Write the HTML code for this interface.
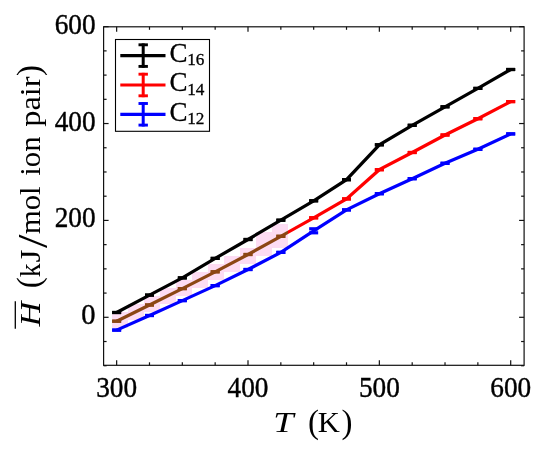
<!DOCTYPE html>
<html><head><meta charset="utf-8"><style>
html,body{margin:0;padding:0;background:#fff;}
svg{display:block;font-family:"Liberation Serif",serif;}
.tk{stroke:#000;stroke-width:0.4px;}
.lg{stroke:#000;stroke-width:0.3px;}
</style></head><body>
<svg width="550" height="450" viewBox="0 0 550 450">
<rect x="0" y="0" width="550" height="450" fill="#fff"/>
<defs><clipPath id="cb"><rect x="0" y="0" width="288.0" height="450"/></clipPath><clipPath id="cr"><rect x="288.0" y="0" width="262.0" height="450"/></clipPath><clipPath id="cp"><rect x="112" y="0" width="176.0" height="450"/></clipPath></defs>
<g fill="#fddcf3"><rect x="112" y="312" width="16" height="8"/><rect x="112" y="320" width="16" height="8"/><rect x="128" y="304" width="16" height="8"/><rect x="128" y="312" width="16" height="8"/><rect x="144" y="296" width="16" height="8"/><rect x="144" y="304" width="16" height="8"/><rect x="160" y="288" width="16" height="8"/><rect x="160" y="296" width="16" height="8"/><rect x="176" y="280" width="16" height="8"/><rect x="176" y="288" width="16" height="8"/><rect x="192" y="272" width="16" height="8"/><rect x="192" y="280" width="16" height="8"/><rect x="208" y="264" width="16" height="8"/><rect x="208" y="272" width="16" height="8"/><rect x="224" y="256" width="16" height="8"/><rect x="224" y="264" width="16" height="8"/><rect x="240" y="248" width="16" height="8"/><rect x="240" y="256" width="16" height="8"/><rect x="256" y="232" width="16" height="8"/><rect x="256" y="240" width="16" height="8"/><rect x="256" y="248" width="16" height="8"/><rect x="272" y="224" width="16" height="8"/><rect x="272" y="232" width="16" height="8"/><rect x="272" y="240" width="16" height="8"/></g>
<polyline points="116.65,312.50 149.49,295.10 182.32,277.90 215.16,258.40 248.00,239.50 280.84,220.20 313.67,200.80 346.51,179.70 379.35,144.80 412.19,125.30 445.02,106.80 477.86,88.40 510.70,69.50" fill="none" stroke="#000" stroke-width="3.2" stroke-linejoin="miter"/>
<line x1="112.15" x2="121.15" y1="312.50" y2="312.50" stroke="#000" stroke-width="3.2"/>
<line x1="112.15" x2="121.15" y1="312.50" y2="312.50" stroke="#000" stroke-width="3.2"/>
<line x1="144.99" x2="153.99" y1="295.10" y2="295.10" stroke="#000" stroke-width="3.2"/>
<line x1="144.99" x2="153.99" y1="295.10" y2="295.10" stroke="#000" stroke-width="3.2"/>
<line x1="177.82" x2="186.82" y1="277.90" y2="277.90" stroke="#000" stroke-width="3.2"/>
<line x1="177.82" x2="186.82" y1="277.90" y2="277.90" stroke="#000" stroke-width="3.2"/>
<line x1="210.66" x2="219.66" y1="258.40" y2="258.40" stroke="#000" stroke-width="3.2"/>
<line x1="210.66" x2="219.66" y1="258.40" y2="258.40" stroke="#000" stroke-width="3.2"/>
<line x1="243.50" x2="252.50" y1="239.50" y2="239.50" stroke="#000" stroke-width="3.2"/>
<line x1="243.50" x2="252.50" y1="239.50" y2="239.50" stroke="#000" stroke-width="3.2"/>
<line x1="276.34" x2="285.34" y1="220.20" y2="220.20" stroke="#000" stroke-width="3.2"/>
<line x1="276.34" x2="285.34" y1="220.20" y2="220.20" stroke="#000" stroke-width="3.2"/>
<line x1="309.17" x2="318.17" y1="200.80" y2="200.80" stroke="#000" stroke-width="3.2"/>
<line x1="309.17" x2="318.17" y1="200.80" y2="200.80" stroke="#000" stroke-width="3.2"/>
<line x1="342.01" x2="351.01" y1="179.70" y2="179.70" stroke="#000" stroke-width="3.2"/>
<line x1="342.01" x2="351.01" y1="179.70" y2="179.70" stroke="#000" stroke-width="3.2"/>
<line x1="374.85" x2="383.85" y1="144.80" y2="144.80" stroke="#000" stroke-width="3.2"/>
<line x1="374.85" x2="383.85" y1="144.80" y2="144.80" stroke="#000" stroke-width="3.2"/>
<line x1="407.69" x2="416.69" y1="125.30" y2="125.30" stroke="#000" stroke-width="3.2"/>
<line x1="407.69" x2="416.69" y1="125.30" y2="125.30" stroke="#000" stroke-width="3.2"/>
<line x1="440.52" x2="449.52" y1="106.80" y2="106.80" stroke="#000" stroke-width="3.2"/>
<line x1="440.52" x2="449.52" y1="106.80" y2="106.80" stroke="#000" stroke-width="3.2"/>
<line x1="473.36" x2="482.36" y1="88.40" y2="88.40" stroke="#000" stroke-width="3.2"/>
<line x1="473.36" x2="482.36" y1="88.40" y2="88.40" stroke="#000" stroke-width="3.2"/>
<line x1="506.20" x2="515.20" y1="69.50" y2="69.50" stroke="#000" stroke-width="3.2"/>
<line x1="506.20" x2="515.20" y1="69.50" y2="69.50" stroke="#000" stroke-width="3.2"/>

<g clip-path="url(#cb)"><polyline points="116.65,321.20 149.49,305.00 182.32,288.60 215.16,271.80 248.00,254.50 280.84,236.30 313.67,217.80 346.51,198.90 379.35,169.70 412.19,152.50 445.02,135.00 477.86,118.70 510.70,101.60" fill="none" stroke="#8c4614" stroke-width="3.2" stroke-linejoin="miter"/>
<line x1="112.15" x2="121.15" y1="321.20" y2="321.20" stroke="#8c4614" stroke-width="3.2"/>
<line x1="112.15" x2="121.15" y1="321.20" y2="321.20" stroke="#8c4614" stroke-width="3.2"/>
<line x1="144.99" x2="153.99" y1="305.00" y2="305.00" stroke="#8c4614" stroke-width="3.2"/>
<line x1="144.99" x2="153.99" y1="305.00" y2="305.00" stroke="#8c4614" stroke-width="3.2"/>
<line x1="177.82" x2="186.82" y1="288.60" y2="288.60" stroke="#8c4614" stroke-width="3.2"/>
<line x1="177.82" x2="186.82" y1="288.60" y2="288.60" stroke="#8c4614" stroke-width="3.2"/>
<line x1="210.66" x2="219.66" y1="271.80" y2="271.80" stroke="#8c4614" stroke-width="3.2"/>
<line x1="210.66" x2="219.66" y1="271.80" y2="271.80" stroke="#8c4614" stroke-width="3.2"/>
<line x1="243.50" x2="252.50" y1="254.50" y2="254.50" stroke="#8c4614" stroke-width="3.2"/>
<line x1="243.50" x2="252.50" y1="254.50" y2="254.50" stroke="#8c4614" stroke-width="3.2"/>
<line x1="276.34" x2="285.34" y1="236.30" y2="236.30" stroke="#8c4614" stroke-width="3.2"/>
<line x1="276.34" x2="285.34" y1="236.30" y2="236.30" stroke="#8c4614" stroke-width="3.2"/>
<line x1="309.17" x2="318.17" y1="217.80" y2="217.80" stroke="#8c4614" stroke-width="3.2"/>
<line x1="309.17" x2="318.17" y1="217.80" y2="217.80" stroke="#8c4614" stroke-width="3.2"/>
<line x1="342.01" x2="351.01" y1="198.90" y2="198.90" stroke="#8c4614" stroke-width="3.2"/>
<line x1="342.01" x2="351.01" y1="198.90" y2="198.90" stroke="#8c4614" stroke-width="3.2"/>
<line x1="374.85" x2="383.85" y1="169.70" y2="169.70" stroke="#8c4614" stroke-width="3.2"/>
<line x1="374.85" x2="383.85" y1="169.70" y2="169.70" stroke="#8c4614" stroke-width="3.2"/>
<line x1="407.69" x2="416.69" y1="152.50" y2="152.50" stroke="#8c4614" stroke-width="3.2"/>
<line x1="407.69" x2="416.69" y1="152.50" y2="152.50" stroke="#8c4614" stroke-width="3.2"/>
<line x1="440.52" x2="449.52" y1="135.00" y2="135.00" stroke="#8c4614" stroke-width="3.2"/>
<line x1="440.52" x2="449.52" y1="135.00" y2="135.00" stroke="#8c4614" stroke-width="3.2"/>
<line x1="473.36" x2="482.36" y1="118.70" y2="118.70" stroke="#8c4614" stroke-width="3.2"/>
<line x1="473.36" x2="482.36" y1="118.70" y2="118.70" stroke="#8c4614" stroke-width="3.2"/>
<line x1="506.20" x2="515.20" y1="101.60" y2="101.60" stroke="#8c4614" stroke-width="3.2"/>
<line x1="506.20" x2="515.20" y1="101.60" y2="101.60" stroke="#8c4614" stroke-width="3.2"/>
</g>
<g clip-path="url(#cr)"><polyline points="116.65,321.20 149.49,305.00 182.32,288.60 215.16,271.80 248.00,254.50 280.84,236.30 313.67,217.80 346.51,198.90 379.35,169.70 412.19,152.50 445.02,135.00 477.86,118.70 510.70,101.60" fill="none" stroke="#ff0000" stroke-width="3.2" stroke-linejoin="miter"/>
<line x1="112.15" x2="121.15" y1="321.20" y2="321.20" stroke="#ff0000" stroke-width="3.2"/>
<line x1="112.15" x2="121.15" y1="321.20" y2="321.20" stroke="#ff0000" stroke-width="3.2"/>
<line x1="144.99" x2="153.99" y1="305.00" y2="305.00" stroke="#ff0000" stroke-width="3.2"/>
<line x1="144.99" x2="153.99" y1="305.00" y2="305.00" stroke="#ff0000" stroke-width="3.2"/>
<line x1="177.82" x2="186.82" y1="288.60" y2="288.60" stroke="#ff0000" stroke-width="3.2"/>
<line x1="177.82" x2="186.82" y1="288.60" y2="288.60" stroke="#ff0000" stroke-width="3.2"/>
<line x1="210.66" x2="219.66" y1="271.80" y2="271.80" stroke="#ff0000" stroke-width="3.2"/>
<line x1="210.66" x2="219.66" y1="271.80" y2="271.80" stroke="#ff0000" stroke-width="3.2"/>
<line x1="243.50" x2="252.50" y1="254.50" y2="254.50" stroke="#ff0000" stroke-width="3.2"/>
<line x1="243.50" x2="252.50" y1="254.50" y2="254.50" stroke="#ff0000" stroke-width="3.2"/>
<line x1="276.34" x2="285.34" y1="236.30" y2="236.30" stroke="#ff0000" stroke-width="3.2"/>
<line x1="276.34" x2="285.34" y1="236.30" y2="236.30" stroke="#ff0000" stroke-width="3.2"/>
<line x1="309.17" x2="318.17" y1="217.80" y2="217.80" stroke="#ff0000" stroke-width="3.2"/>
<line x1="309.17" x2="318.17" y1="217.80" y2="217.80" stroke="#ff0000" stroke-width="3.2"/>
<line x1="342.01" x2="351.01" y1="198.90" y2="198.90" stroke="#ff0000" stroke-width="3.2"/>
<line x1="342.01" x2="351.01" y1="198.90" y2="198.90" stroke="#ff0000" stroke-width="3.2"/>
<line x1="374.85" x2="383.85" y1="169.70" y2="169.70" stroke="#ff0000" stroke-width="3.2"/>
<line x1="374.85" x2="383.85" y1="169.70" y2="169.70" stroke="#ff0000" stroke-width="3.2"/>
<line x1="407.69" x2="416.69" y1="152.50" y2="152.50" stroke="#ff0000" stroke-width="3.2"/>
<line x1="407.69" x2="416.69" y1="152.50" y2="152.50" stroke="#ff0000" stroke-width="3.2"/>
<line x1="440.52" x2="449.52" y1="135.00" y2="135.00" stroke="#ff0000" stroke-width="3.2"/>
<line x1="440.52" x2="449.52" y1="135.00" y2="135.00" stroke="#ff0000" stroke-width="3.2"/>
<line x1="473.36" x2="482.36" y1="118.70" y2="118.70" stroke="#ff0000" stroke-width="3.2"/>
<line x1="473.36" x2="482.36" y1="118.70" y2="118.70" stroke="#ff0000" stroke-width="3.2"/>
<line x1="506.20" x2="515.20" y1="101.60" y2="101.60" stroke="#ff0000" stroke-width="3.2"/>
<line x1="506.20" x2="515.20" y1="101.60" y2="101.60" stroke="#ff0000" stroke-width="3.2"/>
</g>
<polyline points="116.65,330.10 149.49,315.50 182.32,300.60 215.16,285.60 248.00,269.50 280.84,252.40 313.67,230.80 346.51,209.90 379.35,193.70 412.19,178.70 445.02,163.30 477.86,149.30 510.70,133.90" fill="none" stroke="#0000ff" stroke-width="3.2" stroke-linejoin="miter"/>
<line x1="112.15" x2="121.15" y1="330.10" y2="330.10" stroke="#0000ff" stroke-width="3.2"/>
<line x1="112.15" x2="121.15" y1="330.10" y2="330.10" stroke="#0000ff" stroke-width="3.2"/>
<line x1="144.99" x2="153.99" y1="315.50" y2="315.50" stroke="#0000ff" stroke-width="3.2"/>
<line x1="144.99" x2="153.99" y1="315.50" y2="315.50" stroke="#0000ff" stroke-width="3.2"/>
<line x1="177.82" x2="186.82" y1="300.60" y2="300.60" stroke="#0000ff" stroke-width="3.2"/>
<line x1="177.82" x2="186.82" y1="300.60" y2="300.60" stroke="#0000ff" stroke-width="3.2"/>
<line x1="210.66" x2="219.66" y1="285.60" y2="285.60" stroke="#0000ff" stroke-width="3.2"/>
<line x1="210.66" x2="219.66" y1="285.60" y2="285.60" stroke="#0000ff" stroke-width="3.2"/>
<line x1="243.50" x2="252.50" y1="269.50" y2="269.50" stroke="#0000ff" stroke-width="3.2"/>
<line x1="243.50" x2="252.50" y1="269.50" y2="269.50" stroke="#0000ff" stroke-width="3.2"/>
<line x1="276.34" x2="285.34" y1="252.40" y2="252.40" stroke="#0000ff" stroke-width="3.2"/>
<line x1="276.34" x2="285.34" y1="252.40" y2="252.40" stroke="#0000ff" stroke-width="3.2"/>
<line x1="309.17" x2="318.17" y1="228.80" y2="228.80" stroke="#0000ff" stroke-width="3.2"/>
<line x1="309.17" x2="318.17" y1="232.80" y2="232.80" stroke="#0000ff" stroke-width="3.2"/>
<line x1="313.67" x2="313.67" y1="228.80" y2="232.80" stroke="#0000ff" stroke-width="3.2"/>
<line x1="342.01" x2="351.01" y1="209.90" y2="209.90" stroke="#0000ff" stroke-width="3.2"/>
<line x1="342.01" x2="351.01" y1="209.90" y2="209.90" stroke="#0000ff" stroke-width="3.2"/>
<line x1="374.85" x2="383.85" y1="193.70" y2="193.70" stroke="#0000ff" stroke-width="3.2"/>
<line x1="374.85" x2="383.85" y1="193.70" y2="193.70" stroke="#0000ff" stroke-width="3.2"/>
<line x1="407.69" x2="416.69" y1="178.70" y2="178.70" stroke="#0000ff" stroke-width="3.2"/>
<line x1="407.69" x2="416.69" y1="178.70" y2="178.70" stroke="#0000ff" stroke-width="3.2"/>
<line x1="440.52" x2="449.52" y1="163.30" y2="163.30" stroke="#0000ff" stroke-width="3.2"/>
<line x1="440.52" x2="449.52" y1="163.30" y2="163.30" stroke="#0000ff" stroke-width="3.2"/>
<line x1="473.36" x2="482.36" y1="149.30" y2="149.30" stroke="#0000ff" stroke-width="3.2"/>
<line x1="473.36" x2="482.36" y1="149.30" y2="149.30" stroke="#0000ff" stroke-width="3.2"/>
<line x1="506.20" x2="515.20" y1="133.90" y2="133.90" stroke="#0000ff" stroke-width="3.2"/>
<line x1="506.20" x2="515.20" y1="133.90" y2="133.90" stroke="#0000ff" stroke-width="3.2"/>

<rect x="103.6" y="26.8" width="420.50" height="338.50" fill="none" stroke="#111" stroke-width="1.2"/>
<line x1="116.65" x2="116.65" y1="365.3" y2="360.30" stroke="#111" stroke-width="1.2"/>
<line x1="116.65" x2="116.65" y1="26.8" y2="31.80" stroke="#111" stroke-width="1.2"/>
<line x1="149.49" x2="149.49" y1="365.3" y2="362.30" stroke="#111" stroke-width="1.2"/>
<line x1="149.49" x2="149.49" y1="26.8" y2="29.80" stroke="#111" stroke-width="1.2"/>
<line x1="182.32" x2="182.32" y1="365.3" y2="362.30" stroke="#111" stroke-width="1.2"/>
<line x1="182.32" x2="182.32" y1="26.8" y2="29.80" stroke="#111" stroke-width="1.2"/>
<line x1="215.16" x2="215.16" y1="365.3" y2="362.30" stroke="#111" stroke-width="1.2"/>
<line x1="215.16" x2="215.16" y1="26.8" y2="29.80" stroke="#111" stroke-width="1.2"/>
<line x1="248.00" x2="248.00" y1="365.3" y2="360.30" stroke="#111" stroke-width="1.2"/>
<line x1="248.00" x2="248.00" y1="26.8" y2="31.80" stroke="#111" stroke-width="1.2"/>
<line x1="280.84" x2="280.84" y1="365.3" y2="362.30" stroke="#111" stroke-width="1.2"/>
<line x1="280.84" x2="280.84" y1="26.8" y2="29.80" stroke="#111" stroke-width="1.2"/>
<line x1="313.67" x2="313.67" y1="365.3" y2="362.30" stroke="#111" stroke-width="1.2"/>
<line x1="313.67" x2="313.67" y1="26.8" y2="29.80" stroke="#111" stroke-width="1.2"/>
<line x1="346.51" x2="346.51" y1="365.3" y2="362.30" stroke="#111" stroke-width="1.2"/>
<line x1="346.51" x2="346.51" y1="26.8" y2="29.80" stroke="#111" stroke-width="1.2"/>
<line x1="379.35" x2="379.35" y1="365.3" y2="360.30" stroke="#111" stroke-width="1.2"/>
<line x1="379.35" x2="379.35" y1="26.8" y2="31.80" stroke="#111" stroke-width="1.2"/>
<line x1="412.19" x2="412.19" y1="365.3" y2="362.30" stroke="#111" stroke-width="1.2"/>
<line x1="412.19" x2="412.19" y1="26.8" y2="29.80" stroke="#111" stroke-width="1.2"/>
<line x1="445.02" x2="445.02" y1="365.3" y2="362.30" stroke="#111" stroke-width="1.2"/>
<line x1="445.02" x2="445.02" y1="26.8" y2="29.80" stroke="#111" stroke-width="1.2"/>
<line x1="477.86" x2="477.86" y1="365.3" y2="362.30" stroke="#111" stroke-width="1.2"/>
<line x1="477.86" x2="477.86" y1="26.8" y2="29.80" stroke="#111" stroke-width="1.2"/>
<line x1="510.70" x2="510.70" y1="365.3" y2="360.30" stroke="#111" stroke-width="1.2"/>
<line x1="510.70" x2="510.70" y1="26.8" y2="31.80" stroke="#111" stroke-width="1.2"/>
<line x1="103.6" x2="106.60" y1="365.74" y2="365.74" stroke="#111" stroke-width="1.2"/>
<line x1="524.1" x2="521.10" y1="365.74" y2="365.74" stroke="#111" stroke-width="1.2"/>
<line x1="103.6" x2="106.60" y1="341.52" y2="341.52" stroke="#111" stroke-width="1.2"/>
<line x1="524.1" x2="521.10" y1="341.52" y2="341.52" stroke="#111" stroke-width="1.2"/>
<line x1="103.6" x2="108.60" y1="317.30" y2="317.30" stroke="#111" stroke-width="1.2"/>
<line x1="524.1" x2="519.10" y1="317.30" y2="317.30" stroke="#111" stroke-width="1.2"/>
<line x1="103.6" x2="106.60" y1="293.08" y2="293.08" stroke="#111" stroke-width="1.2"/>
<line x1="524.1" x2="521.10" y1="293.08" y2="293.08" stroke="#111" stroke-width="1.2"/>
<line x1="103.6" x2="106.60" y1="268.86" y2="268.86" stroke="#111" stroke-width="1.2"/>
<line x1="524.1" x2="521.10" y1="268.86" y2="268.86" stroke="#111" stroke-width="1.2"/>
<line x1="103.6" x2="106.60" y1="244.64" y2="244.64" stroke="#111" stroke-width="1.2"/>
<line x1="524.1" x2="521.10" y1="244.64" y2="244.64" stroke="#111" stroke-width="1.2"/>
<line x1="103.6" x2="108.60" y1="220.42" y2="220.42" stroke="#111" stroke-width="1.2"/>
<line x1="524.1" x2="519.10" y1="220.42" y2="220.42" stroke="#111" stroke-width="1.2"/>
<line x1="103.6" x2="106.60" y1="196.20" y2="196.20" stroke="#111" stroke-width="1.2"/>
<line x1="524.1" x2="521.10" y1="196.20" y2="196.20" stroke="#111" stroke-width="1.2"/>
<line x1="103.6" x2="106.60" y1="171.98" y2="171.98" stroke="#111" stroke-width="1.2"/>
<line x1="524.1" x2="521.10" y1="171.98" y2="171.98" stroke="#111" stroke-width="1.2"/>
<line x1="103.6" x2="106.60" y1="147.76" y2="147.76" stroke="#111" stroke-width="1.2"/>
<line x1="524.1" x2="521.10" y1="147.76" y2="147.76" stroke="#111" stroke-width="1.2"/>
<line x1="103.6" x2="108.60" y1="123.54" y2="123.54" stroke="#111" stroke-width="1.2"/>
<line x1="524.1" x2="519.10" y1="123.54" y2="123.54" stroke="#111" stroke-width="1.2"/>
<line x1="103.6" x2="106.60" y1="99.32" y2="99.32" stroke="#111" stroke-width="1.2"/>
<line x1="524.1" x2="521.10" y1="99.32" y2="99.32" stroke="#111" stroke-width="1.2"/>
<line x1="103.6" x2="106.60" y1="75.10" y2="75.10" stroke="#111" stroke-width="1.2"/>
<line x1="524.1" x2="521.10" y1="75.10" y2="75.10" stroke="#111" stroke-width="1.2"/>
<line x1="103.6" x2="106.60" y1="50.88" y2="50.88" stroke="#111" stroke-width="1.2"/>
<line x1="524.1" x2="521.10" y1="50.88" y2="50.88" stroke="#111" stroke-width="1.2"/>
<line x1="103.6" x2="108.60" y1="26.66" y2="26.66" stroke="#111" stroke-width="1.2"/>
<line x1="524.1" x2="519.10" y1="26.66" y2="26.66" stroke="#111" stroke-width="1.2"/>
<text class="tk" x="96.20" y="396.6" font-size="28.5" textLength="40.9" lengthAdjust="spacingAndGlyphs">300</text>
<text class="tk" x="227.55" y="396.6" font-size="28.5" textLength="40.9" lengthAdjust="spacingAndGlyphs">400</text>
<text class="tk" x="358.90" y="396.6" font-size="28.5" textLength="40.9" lengthAdjust="spacingAndGlyphs">500</text>
<text class="tk" x="490.25" y="396.6" font-size="28.5" textLength="40.9" lengthAdjust="spacingAndGlyphs">600</text>
<text class="tk" x="95.6" y="324.30" text-anchor="end" font-size="28.5">0</text>
<text class="tk" x="54.699999999999996" y="227.42" font-size="28.5" textLength="40.9" lengthAdjust="spacingAndGlyphs">200</text>
<text class="tk" x="54.699999999999996" y="130.54" font-size="28.5" textLength="40.9" lengthAdjust="spacingAndGlyphs">400</text>
<text class="tk" x="54.699999999999996" y="33.66" font-size="28.5" textLength="40.9" lengthAdjust="spacingAndGlyphs">600</text>
<text x="273.21" y="432.4" font-size="29.5" font-style="italic" textLength="20.29" lengthAdjust="spacingAndGlyphs">T</text>
<text x="308.0" y="433.0" font-size="33">(</text>
<text x="317.86" y="432.4" font-size="29.5" textLength="22.1" lengthAdjust="spacingAndGlyphs">K</text>
<text x="341.5" y="433.0" font-size="33">)</text>
<g transform="translate(39.9,328.9) rotate(-90)">
<text x="2.46" y="0" font-size="29.5" font-style="italic" textLength="24.94" lengthAdjust="spacingAndGlyphs">H</text>
<text x="40.7" y="0" font-size="33" font-style="normal">(</text>
<text x="51.63" y="0" font-size="29.5" font-style="normal" textLength="13.87" lengthAdjust="spacingAndGlyphs">k</text>
<text x="66.31" y="0" font-size="29.5" font-style="normal" textLength="13.08" lengthAdjust="spacingAndGlyphs">J</text>
<text x="80.9" y="6.6" font-size="42" font-style="normal" textLength="13.4" lengthAdjust="spacingAndGlyphs">/</text>
<text x="94.56" y="0" font-size="29.5" font-style="normal" textLength="48.0" lengthAdjust="spacingAndGlyphs">mol</text>
<text x="153.27" y="0" font-size="29.5" font-style="normal" textLength="39.12" lengthAdjust="spacingAndGlyphs">ion</text>
<text x="202.14" y="0" font-size="29.5" font-style="normal" textLength="50.38" lengthAdjust="spacingAndGlyphs">pair</text>
<text x="252.8" y="0" font-size="33" font-style="normal">)</text>
</g>
<line x1="15.3" x2="15.3" y1="301.2" y2="328.8" stroke="#000" stroke-width="1.3"/>
<rect x="115.5" y="39.5" width="94" height="91.8" fill="#fff" stroke="#000" stroke-width="1.1"/>
<line x1="120.3" x2="165.5" y1="55.6" y2="55.6" stroke="#000" stroke-width="3.2"/>
<line x1="143.2" x2="143.2" y1="43.40" y2="67.80" stroke="#000" stroke-width="3"/>
<line x1="138.5" x2="147.9" y1="44.80" y2="44.80" stroke="#000" stroke-width="2.9"/>
<line x1="138.5" x2="147.9" y1="66.40" y2="66.40" stroke="#000" stroke-width="2.9"/>
<text class="lg" x="169.6" y="61.80" font-size="27">C<tspan font-size="17.2" dy="3.4" dx="-0.4">16</tspan></text>
<line x1="120.3" x2="165.5" y1="85.0" y2="85.0" stroke="#ff0000" stroke-width="3.2"/>
<line x1="143.2" x2="143.2" y1="72.80" y2="97.20" stroke="#ff0000" stroke-width="3"/>
<line x1="138.5" x2="147.9" y1="74.20" y2="74.20" stroke="#ff0000" stroke-width="2.9"/>
<line x1="138.5" x2="147.9" y1="95.80" y2="95.80" stroke="#ff0000" stroke-width="2.9"/>
<text class="lg" x="169.6" y="91.20" font-size="27">C<tspan font-size="17.2" dy="3.4" dx="-0.4">14</tspan></text>
<line x1="120.3" x2="165.5" y1="114.3" y2="114.3" stroke="#0000ff" stroke-width="3.2"/>
<line x1="143.2" x2="143.2" y1="102.10" y2="126.50" stroke="#0000ff" stroke-width="3"/>
<line x1="138.5" x2="147.9" y1="103.50" y2="103.50" stroke="#0000ff" stroke-width="2.9"/>
<line x1="138.5" x2="147.9" y1="125.10" y2="125.10" stroke="#0000ff" stroke-width="2.9"/>
<text class="lg" x="169.6" y="120.50" font-size="27">C<tspan font-size="17.2" dy="3.4" dx="-0.4">12</tspan></text>
</svg>
</body></html>
